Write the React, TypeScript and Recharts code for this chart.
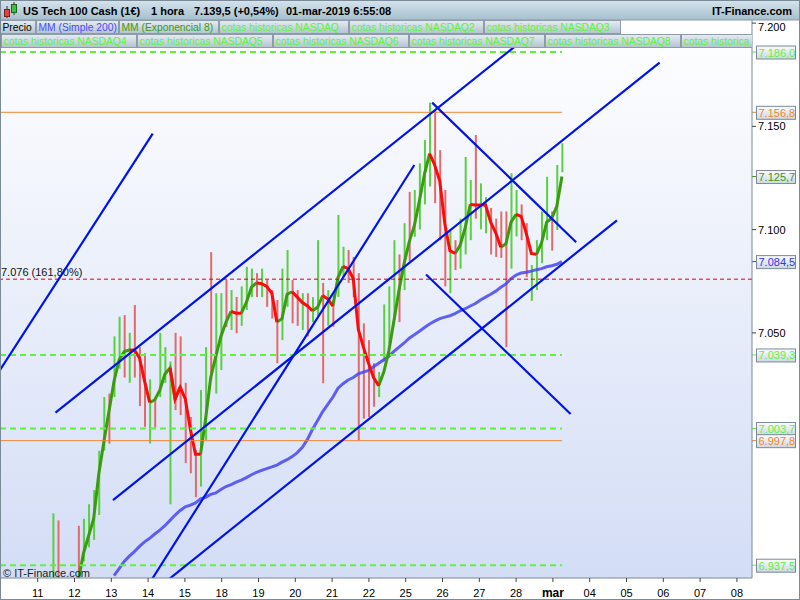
import {
  ComposedChart,
  Bar,
  Line,
  Cell,
  XAxis,
  YAxis,
  CartesianGrid,
  ReferenceLine,
} from 'recharts'

const dayLabels = ['11', '12', '13', '14', '15', '18', '19', '20', '21', '22', '25', '26', '27', '28', 'mar', '04', '05', '06', '07', '08']
const dayTicks = dayLabels.map((_, i) => i)
const priceTicks = [7050, 7100, 7150, 7200]

const instrument = 'US Tech 100 Cash (1€)'
const period = '1 hora'
const lastQuote = '7.139,5 (+0,54%)'
const stamp = '01-mar-2019 6:55:08'
const brand = 'IT-Finance.com'
const copyright = '© IT-Finance.com'

const legendTop = ['Precio', 'MM (Simple 200)', 'MM (Exponencial 8)', 'cotas historicas NASDAQ', 'cotas historicas NASDAQ2', 'cotas historicas NASDAQ3']
const legendBottom = ['cotas historicas NASDAQ4', 'cotas historicas NASDAQ5', 'cotas historicas NASDAQ6', 'cotas historicas NASDAQ7', 'cotas historicas NASDAQ8', 'cotas historica']

// hourly bars, sampled about every 3 hours; x in trading days from the "11" tick
const firstBarDay = 0.415
const barStep = 0.1383

const barHigh = [
  6962.6, 6959.2, null, null, null, 6956.6, 6960.0, 6967.0, 6973.9, 6992.9,
  7018.9, 7020.6, 7048.3, 7057.8, 7058.6, 7050.0, 7063.5, 7043.1, 7040.1, 7027.5,
  7018.9, 7050.0, 7043.1, 7036.1, 7050.0, 7048.3, 7025.8, 7009.3, 6993.3, 7022.3,
  7043.1, 7089.1, 7069.2, 7069.2, 7075.6, 7070.7, 7067.4, 7072.5, 7082.0, 7081.1,
  7078.9, 7081.1, 7075.6, 7070.7, 7065.9, 7081.1, 7090.1, 7075.6, 7070.7, 7069.2,
  7069.2, 7067.3, 7094.9, 7074.2, 7070.7, 7065.9, 7107.1, 7091.7, 7090.1, 7086.8,
  7078.9, 7054.6, 7046.5, 7035.3, 7031.0, 7063.8, 7072.5, 7094.9, 7088.0, 7103.1,
  7118.3, 7119.2, 7132.1, 7143.4, 7161.5, 7157.9, 7138.5, 7119.2, 7100.1, 7094.9,
  7105.3, 7135.2, 7124.0, 7145.8, 7122.4, 7115.7, 7110.5, 7105.3, 7108.8, 7108.8,
  7127.3, 7119.2, 7112.2, 7103.1, 7082.8, 7094.9, 7108.8, 7125.6, 7108.8, 7131.3,
  7141.8,
]

const barLow = [
  6920.0, 6920.0, null, null, null, 6920.0, 6939.3, 6946.2, 6949.7, 6961.8,
  6992.9, 6996.4, 7018.9, 7032.7, 7028.4, 7025.8, 7028.4, 7014.5, 7004.5, 6996.4,
  7004.1, 7018.9, 7025.8, 6967.0, 7012.6, 7010.2, 6986.9, 6982.0, 6970.4, 6975.6,
  6998.1, 7027.2, 7020.6, 7032.0, 7052.9, 7051.4, 7049.8, 7053.4, 7061.1, 7067.3,
  7067.4, 7067.3, 7062.6, 7056.9, 7035.3, 7046.5, 7062.6, 7054.6, 7053.4, 7051.4,
  7048.3, 7055.2, 7057.8, 7025.6, 7053.4, 7052.9, 7067.4, 7077.1, 7074.2, 7067.3,
  6998.1, 7008.5, 7009.3, 7014.2, 7018.9, 7036.1, 7044.8, 7056.2, 7055.2, 7070.7,
  7084.6, 7096.5, 7100.1, 7112.2, 7120.9, 7112.8, 7094.9, 7072.5, 7069.2, 7080.4,
  7081.1, 7088.0, 7094.9, 7105.3, 7100.1, 7098.2, 7088.0, 7086.8, 7086.3, 7043.1,
  7081.1, 7096.7, 7094.9, 7077.1, 7065.5, 7070.7, 7083.7, 7094.9, 7089.8, 7099.8,
  7127.8,
]

// g = closed up (green), r = closed down (red)
const barTone = (
  'gr---rgggg' + 'grggrgrrrg' + 'rgggrrrrrg' + 'grggrgrggg' + 'rgrrrggrrg' +
  'rggrgrggrr' + 'rrrrggggrg' + 'rggggrrrgr' + 'gggrggrrrr' + 'ggrrggggrg' + 'g'
).split('')

const ema8 = [
  null, null, null, null, null, 6930.3, 6943.3, 6951.7, 6960.0, 6981.7,
  6997.2, 7011.9, 7026.6, 7037.0, 7041.0, 7041.7, 7041.7, 7037.9, 7026.6, 7016.3,
  7017.5, 7022.3, 7030.1, 7033.0, 7018.0, 7023.7, 7018.0, 7003.3, 6991.2, 6991.2,
  7008.5, 7028.4, 7038.7, 7048.3, 7055.2, 7060.4, 7059.5, 7059.5, 7064.7, 7072.1,
  7074.2, 7073.8, 7072.5, 7069.2, 7055.2, 7056.9, 7068.7, 7069.9, 7067.3, 7064.7,
  7063.0, 7060.7, 7062.4, 7068.1, 7066.4, 7063.0, 7076.8, 7082.2, 7081.1, 7076.3,
  7051.7, 7043.1, 7035.3, 7028.4, 7024.4, 7031.0, 7041.3, 7056.0, 7070.7, 7083.7,
  7094.1, 7101.9, 7114.0, 7126.9, 7136.8, 7131.3, 7123.5, 7102.7, 7089.8, 7088.4,
  7092.4, 7101.0, 7112.2, 7111.9, 7111.9, 7111.9, 7103.6, 7098.4, 7091.5, 7093.2,
  7103.6, 7107.4, 7106.4, 7098.2, 7088.5, 7088.0, 7093.6, 7103.6, 7105.5, 7111.4,
  7125.7,
]

const sma200 = [
  null, null, null, null, null, null, null, null, null, null,
  null, null, 6932.4, 6935.8, 6939.3, 6941.9, 6944.1, 6946.6, 6948.8, 6950.5,
  6952.6, 6954.5, 6956.6, 6959.2, 6961.8, 6964.0, 6965.8, 6966.6, 6967.7, 6969.6,
  6970.4, 6971.8, 6972.5, 6974.2, 6975.6, 6976.5, 6977.7, 6978.7, 6979.9, 6981.3,
  6982.5, 6983.4, 6984.3, 6985.1, 6986.0, 6987.4, 6988.6, 6990.1, 6992.0, 6994.6,
  6998.4, 7003.3, 7007.6, 7011.9, 7015.4, 7018.9, 7023.2, 7025.4, 7027.2, 7028.4,
  7030.1, 7031.0, 7031.8, 7033.6, 7035.3, 7037.0, 7038.7, 7041.0, 7043.1, 7045.1,
  7047.4, 7049.1, 7050.8, 7052.6, 7054.3, 7055.7, 7056.9, 7057.6, 7058.3, 7059.3,
  7060.7, 7061.7, 7063.0, 7064.2, 7065.9, 7067.3, 7068.7, 7070.2, 7072.1, 7073.7,
  7076.3, 7078.0, 7079.0, 7079.4, 7079.9, 7080.6, 7081.1, 7082.0, 7082.5, 7083.2,
  7084.5,
]

const greenLevels = [7186.0, 7039.3, 7003.7, 6937.5]
const orangeLevels = [7156.8, 6997.8]
const fibLevel = 7076
const fibText = '7.076 (161,80%)'

// hand-drawn trend lines: [day, price] -> [day, price]
const trendLines = [
  [[-1.107, 7029.7], [3.126, 7146.5]],
  [[0.484, 7011.4], [13.87, 7201.5]],
  [[2.047, 6969.0], [16.9, 7180.9]],
  [[2.946, 6926.2], [10.235, 7131.3]],
  [[3.25, 6926.2], [15.74, 7104.5]],
  [[10.719, 7161.5], [14.633, 7093.9]],
  [[10.553, 7078.3], [14.481, 7010.7]],
]

const FONT = 'Arial, "Liberation Sans", sans-serif'
const X_MIN = -1.024
const X_MAX = 19.41
const Y_MIN = 6931.3
const Y_MAX = 7201.5
const AXIS_X = 752

const LIME = '#5cf23e'
const ORANGE = '#f08630'
const EMA_UP = '#3a9a10'
const EMA_DOWN = '#ff0a0a'
const SMA_BLUE = '#4848f0'
const TREND = '#0014e6'
const BAR_UP = '#58d040'
const BAR_DOWN = '#e26a6a'

const fmtTick = (v: number) => {
  const i = v.toFixed(0)
  return `${i.slice(0, -3)}.${i.slice(-3)}`
}
const fmtPrice = (v: number) => {
  const [i, d] = v.toFixed(1).split('.')
  return `${i.slice(0, -3)}.${i.slice(-3)},${d}`
}

const rising = (a: number | null, b: number | null) => a != null && b != null && b > a
const falling = (a: number | null, b: number | null) => a != null && b != null && b <= a

const rows = barHigh.map((hi, i) => {
  const prev = i > 0 ? ema8[i - 1] : null
  const cur = ema8[i]
  const next = i < ema8.length - 1 ? ema8[i + 1] : null
  return {
    t: firstBarDay + barStep * i,
    range: hi == null ? null : [barLow[i], hi],
    tone: barTone[i],
    sma: sma200[i],
    emaUp: rising(prev, cur) || rising(cur, next) ? cur : null,
    emaDown: falling(prev, cur) || falling(cur, next) ? cur : null,
  }
})
const lastT = rows[rows.length - 1].t

function DayTick(props: any) {
  const { x, y, payload } = props
  const label = dayLabels[Math.round(payload.value)]
  const bold = label === 'mar'
  return (
    <text x={x} y={y + 12.5} textAnchor="middle" fontSize={bold ? 12 : 11} fontWeight={bold ? 'bold' : 'normal'} fill="#000">
      {label}
    </text>
  )
}

function PriceTick(props: any) {
  const { x, y, payload } = props
  const nudge = payload.value === priceTicks[priceTicks.length - 1] ? 4 : 0
  return (
    <text x={x} y={y + 4 + nudge} fontSize={11} fill="#000">
      {fmtTick(payload.value)}
    </text>
  )
}

function PriceTag({ viewBox, value, color }: any) {
  if (!viewBox) return null
  const y = viewBox.y
  return (
    <g>
      <line x1={AXIS_X} x2={AXIS_X + 5} y1={y} y2={y} stroke={color} />
      <rect x={AXIS_X + 4.5} y={y - 6} width={39} height={13} fill="url(#tagBg)" stroke="#7b8a97" />
      <text x={AXIS_X + 6.5} y={y + 4.5} fontSize={11} fill={color}>
        {fmtPrice(value)}
      </text>
    </g>
  )
}

const tag = (value: number, color: string) => (p: any) => <PriceTag viewBox={p.viewBox} value={value} color={color} />

function LegendBox({ x, y, w, text, color }: any) {
  return (
    <g>
      <rect x={x + 0.5} y={y + 0.5} width={w} height={13} fill="url(#legFill)" stroke="#8d9ca8" />
      <text x={x + 2.5} y={y + 10.5} fontSize={10.3} fill={color}>
        {text}
      </text>
    </g>
  )
}

function Overlay() {
  const topWidths = [35, 82, 99, 129, 134, 136]
  const topColors = ['#000', '#4a4aff', EMA_UP, LIME, LIME, LIME]
  let cx = 0
  const top = legendTop.map((text, i) => {
    const box = <LegendBox key={text} x={cx} y={20} w={topWidths[i]} text={text} color={topColors[i]} />
    cx += topWidths[i] + 1
    return box
  })
  const bottom = legendBottom.map((text, i) => (
    <LegendBox key={text} x={1 + i * 136} y={34} w={135} text={text} color={LIME} />
  ))
  return (
    <svg width={800} height={600} style={{ position: 'absolute', left: 0, top: 0, pointerEvents: 'none' }} fontFamily={FONT}>
      <defs>
        <linearGradient id="hdrFill" x1="0" y1="0" x2="0" y2="1">
          <stop offset="0" stopColor="#d6e4ec" />
          <stop offset="1" stopColor="#a6bfcd" />
        </linearGradient>
        <linearGradient id="legFill" x1="0" y1="0" x2="0" y2="1">
          <stop offset="0" stopColor="#e6edf2" />
          <stop offset="1" stopColor="#b3c3cf" />
        </linearGradient>
        <clipPath id="legClip">
          <rect x={0} y={20} width={752} height={30} />
        </clipPath>
      </defs>
      <rect x={0} y={0} width={800} height={20} fill="url(#hdrFill)" />
      <line x1={0} x2={800} y1={20} y2={20} stroke="#8a9aa6" />
      <line x1={7} x2={7} y1={6} y2={18} stroke="#333" />
      <rect x={4.5} y={9.5} width={5} height={7} fill="#e84040" stroke="#7a2020" />
      <line x1={14} x2={14} y1={2} y2={15} stroke="#333" />
      <rect x={11.5} y={4.5} width={5} height={8} fill="#40c040" stroke="#206020" />
      <text x={23} y={15} fontSize={11} fontWeight="bold" fill="#000">{instrument}</text>
      <text x={151} y={15} fontSize={11} fontWeight="bold" fill="#000">{period}</text>
      <text x={194} y={15} fontSize={11} fontWeight="bold" fill="#000">{lastQuote}</text>
      <text x={286} y={15} fontSize={11} fontWeight="bold" fill="#000">{stamp}</text>
      <text x={792} y={15} fontSize={11} fontWeight="bold" fill="#000" textAnchor="end">{brand}</text>
      <g clipPath="url(#legClip)">
        {top}
        {bottom}
      </g>
      <text x={3} y={577} fontSize={11} fill="#222">{copyright}</text>
      <rect x={0.5} y={0.5} width={799} height={599} fill="none" stroke="#7b8a97" />
    </svg>
  )
}

export default function App() {
  return (
    <div style={{ position: 'absolute', left: 0, top: 0, width: 800, height: 600, background: '#fff', fontFamily: FONT, overflow: 'hidden' }}>
      <ComposedChart width={800} height={600} data={rows} margin={{ top: 20, right: 0, bottom: 0, left: 0 }}>
        <defs>
          <linearGradient id="plotBg" x1="0" y1="0" x2="0" y2="1">
            <stop offset="0" stopColor="#ffffff" />
            <stop offset="1" stopColor="#d3ddf6" />
          </linearGradient>
          <linearGradient id="tagBg" x1="0" y1="0" x2="0" y2="1">
            <stop offset="0" stopColor="#fbfcfe" />
            <stop offset="1" stopColor="#cdd6e2" />
          </linearGradient>
        </defs>
        <CartesianGrid fill="url(#plotBg)" horizontal={false} vertical={false} stroke="none" />
        <XAxis
          type="number"
          dataKey="t"
          domain={[X_MIN, X_MAX]}
          ticks={dayTicks}
          interval={0}
          allowDataOverflow
          height={22}
          tick={<DayTick />}
          tickSize={4}
          tickMargin={2}
          axisLine={{ stroke: '#7b8a97' }}
          tickLine={{ stroke: '#444' }}
        />
        <YAxis
          orientation="right"
          width={48}
          domain={[Y_MIN, Y_MAX]}
          ticks={priceTicks}
          allowDataOverflow
          tick={<PriceTick />}
          tickSize={4}
          tickMargin={2}
          axisLine={{ stroke: '#7b8a97' }}
          tickLine={{ stroke: '#444' }}
        />
        <Bar dataKey="range" barSize={2} isAnimationActive={false}>
          {rows.map((r, i) => (
            <Cell key={i} fill={r.tone === 'g' ? BAR_UP : BAR_DOWN} />
          ))}
        </Bar>
        <Line dataKey="sma" stroke={SMA_BLUE} strokeOpacity={0.85} strokeWidth={3} dot={false} isAnimationActive={false} />
        <Line dataKey="emaUp" stroke={EMA_UP} strokeWidth={3} dot={false} isAnimationActive={false} />
        <Line dataKey="emaDown" stroke={EMA_DOWN} strokeWidth={3} dot={false} isAnimationActive={false} />
        {greenLevels.map((v) => (
          <ReferenceLine
            key={`g${v}`}
            segment={[{ x: X_MIN, y: v }, { x: lastT, y: v }]}
            stroke={LIME}
            strokeWidth={2}
            strokeDasharray="6 4"
            ifOverflow="visible"
            label={tag(v, LIME)}
          />
        ))}
        {orangeLevels.map((v) => (
          <ReferenceLine
            key={`o${v}`}
            segment={[{ x: X_MIN, y: v }, { x: lastT, y: v }]}
            stroke={ORANGE}
            strokeWidth={1}
            ifOverflow="visible"
            label={tag(v, ORANGE)}
          />
        ))}
        <ReferenceLine
          y={fibLevel}
          stroke="#e00000"
          strokeDasharray="4 3"
          label={(p: any) => (
            <text x={p.viewBox.x + 1} y={p.viewBox.y - 3} fontSize={11} fill="#111">
              {fibText}
            </text>
          )}
        />
        {trendLines.map(([a, b], i) => (
          <ReferenceLine
            key={`tl${i}`}
            segment={[{ x: a[0], y: a[1] }, { x: b[0], y: b[1] }]}
            stroke={TREND}
            strokeWidth={2.2}
            ifOverflow="hidden"
          />
        ))}
        <ReferenceLine y={ema8[ema8.length - 1] as number} strokeOpacity={0} label={tag(ema8[ema8.length - 1] as number, EMA_UP)} />
        <ReferenceLine y={sma200[sma200.length - 1] as number} strokeOpacity={0} label={tag(sma200[sma200.length - 1] as number, '#3434ff')} />
      </ComposedChart>
      <Overlay />
    </div>
  )
}
